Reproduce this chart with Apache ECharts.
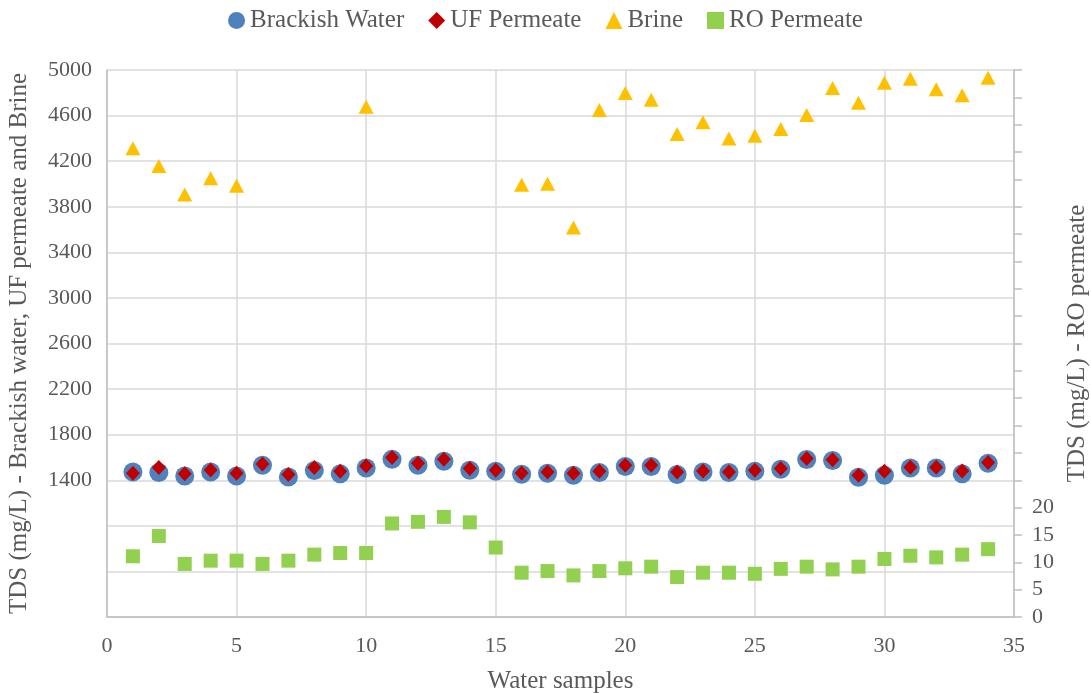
<!DOCTYPE html>
<html>
<head>
<meta charset="utf-8">
<script src="https://cdn.jsdelivr.net/npm/echarts@6/dist/echarts.min.js"></script>
<style>html,body{margin:0;padding:0;background:#fff}#c{width:1091px;height:693px}</style>
</head>
<body>
<div id="c"></div>
<script>
const samples = [1,2,3,4,5,6,7,8,9,10,11,12,13,14,15,16,17,18,19,20,21,22,23,24,25,26,27,28,29,30,31,32,33,34];
const brackish = [1473,1468,1438,1473,1438,1532,1429,1485,1456,1508,1585,1532,1567,1488,1479,1453,1462,1444,1468,1520,1520,1450,1473,1468,1479,1497,1582,1573,1427,1444,1508,1508,1456,1549];
const ufPermeate = [1462,1512,1456,1491,1462,1543,1450,1512,1479,1526,1600,1549,1585,1503,1488,1464,1473,1462,1479,1532,1532,1473,1482,1473,1488,1503,1591,1579,1444,1479,1514,1514,1482,1555];
const brine = [4313,4157,3908,4049,3984,null,null,null,null,4678,null,null,null,null,null,3993,4002,3619,4649,4798,4739,4438,4541,4400,4423,4482,4605,4842,4713,4889,4924,4830,4778,4933];
const roPermeate = [11.1,14.8,9.7,10.3,10.3,9.7,10.3,11.4,11.7,11.7,17.1,17.4,18.3,17.3,12.7,8.1,8.4,7.6,8.4,8.9,9.2,7.3,8.1,8.1,7.9,8.8,9.2,8.7,9.2,10.6,11.2,10.9,11.4,12.4];
const names = ['Brackish Water','UF Permeate','Brine','RO Permeate'];

const pair = arr => samples.map((s,i)=>[s,arr[i]]).filter(p=>p[1]!==null);
const font = 'Liberation Serif';
const txt = '#595959';
const chart = echarts.init(document.getElementById('c'));
chart.setOption({
  animation:false,
  backgroundColor:'#fff',
  textStyle:{fontFamily:font},
  legend:{
    top:3, left:'center', itemGap:24, itemWidth:17, itemHeight:17,
    textStyle:{fontFamily:font, fontSize:25, color:txt},
    data:[
      {name:names[0], icon:'circle'},
      {name:names[1], icon:'diamond'},
      {name:names[2], icon:'triangle'},
      {name:names[3], icon:'rect'}
    ]
  },
  grid:{left:107, right:77, top:70, bottom:76, outerBoundsMode:'none', containLabel:false},
  xAxis:{
    type:'value', min:0, max:35, interval:5,
    name:'Water samples', nameLocation:'middle', nameGap:52,
    nameTextStyle:{fontFamily:font, fontSize:25, color:txt},
    axisLine:{lineStyle:{color:'#BFBFBF', width:1.5}},
    axisTick:{show:false},
    axisLabel:{fontFamily:font, fontSize:22, color:txt, margin:18},
    splitLine:{show:true, lineStyle:{color:'#D9D9D9', width:1.5}}
  },
  yAxis:[{
    type:'value', min:200, max:5000, interval:400,
    name:'TDS (mg/L) - Brackish water, UF permeate and Brine', nameLocation:'middle', nameGap:75,
    nameTextStyle:{fontFamily:font, fontSize:25, color:txt},
    axisLine:{show:true, lineStyle:{color:'#BFBFBF', width:1.5}},
    axisTick:{show:false},
    axisLabel:{fontFamily:font, fontSize:22, color:txt, margin:15,
      formatter:v => v>=1400 ? String(v) : ''},
    splitLine:{show:true, lineStyle:{color:'#D9D9D9', width:1.5}}
  },{
    type:'value', min:0, max:100, interval:5, position:'right',
    name:'TDS (mg/L) - RO permeate', nameLocation:'middle', nameGap:50,
    nameTextStyle:{fontFamily:font, fontSize:25, color:txt},
    axisLine:{show:true, lineStyle:{color:'#BFBFBF', width:1.5}},
    axisTick:{show:true, length:8, lineStyle:{color:'#BFBFBF', width:1.5}},
    axisLabel:{fontFamily:font, fontSize:22, color:txt, margin:18,
      formatter:v => v<=20 ? String(v) : ''},
    splitLine:{show:false}
  }],
  series:[
    {name:names[0], type:'scatter', yAxisIndex:0, symbol:'circle', symbolSize:19, z:2,
      itemStyle:{color:'#4F81BD', opacity:1}, data:pair(brackish)},
    {name:names[1], type:'scatter', yAxisIndex:0, symbol:'diamond', symbolSize:[14,15], z:3,
      itemStyle:{color:'#C00000', opacity:1}, data:pair(ufPermeate)},
    {name:names[2], type:'scatter', yAxisIndex:0, symbol:'triangle', symbolSize:[15,14], z:2,
      itemStyle:{color:'#FFC000', opacity:1}, data:pair(brine)},
    {name:names[3], type:'scatter', yAxisIndex:1, symbol:'rect', symbolSize:14, z:2,
      itemStyle:{color:'#92D050', opacity:1}, data:pair(roPermeate)}
  ]
});
</script>
</body>
</html>
